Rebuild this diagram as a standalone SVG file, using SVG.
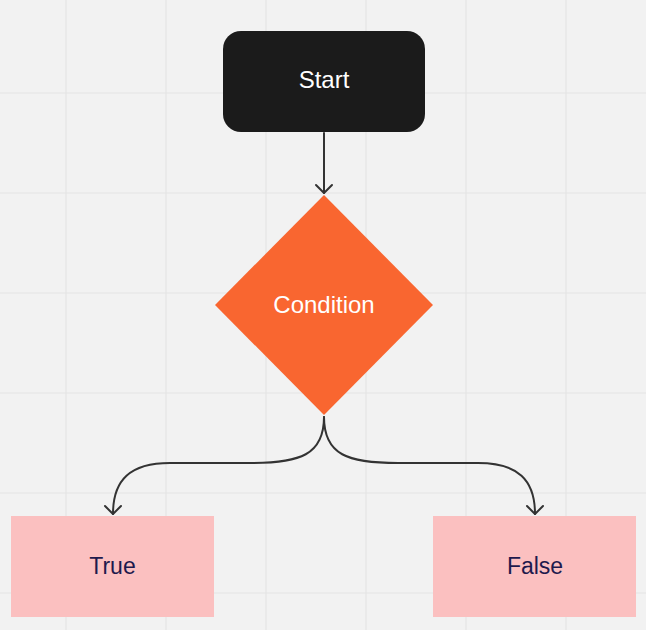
<svg xmlns="http://www.w3.org/2000/svg" width="646" height="630" viewBox="0 0 646 630">
  <defs>
    <style>
      .grid line { stroke: #e4e4e4; stroke-width: 1.2; }
      .edge { fill: none; stroke: #333333; stroke-width: 2; stroke-linecap: round; }
      .head { fill: none; stroke: #333333; stroke-width: 2; stroke-linecap: round; stroke-linejoin: round; }
      .lbl { font-family: "Liberation Sans", Arial, sans-serif; text-anchor: middle; }
      .light { fill: #ffffff; font-size: 24px; }
      .dark { fill: #1e1a4d; font-size: 23px; }
    </style>
  </defs>
  <rect x="0" y="0" width="646" height="630" fill="#f2f2f2"/>
  <g class="grid">
    <line x1="66" y1="0" x2="66" y2="630"/>
    <line x1="166" y1="0" x2="166" y2="630"/>
    <line x1="266" y1="0" x2="266" y2="630"/>
    <line x1="366" y1="0" x2="366" y2="630"/>
    <line x1="466" y1="0" x2="466" y2="630"/>
    <line x1="566" y1="0" x2="566" y2="630"/>
    <line x1="0" y1="93" x2="646" y2="93"/>
    <line x1="0" y1="193" x2="646" y2="193"/>
    <line x1="0" y1="293" x2="646" y2="293"/>
    <line x1="0" y1="393" x2="646" y2="393"/>
    <line x1="0" y1="493" x2="646" y2="493"/>
    <line x1="0" y1="593" x2="646" y2="593"/>
  </g>
  <g id="connectors">
    <path class="edge" d="M324 133 L324 193"/>
    <path class="head" d="M316 185 L324 193 L332 185"/>
    <path class="edge" d="M324 417 C324 455 300 463 250 463 L170 463 C130 463 113 480 113 514"/>
    <path class="head" d="M105 506 L113 514 L121 506"/>
    <path class="edge" d="M324 417 C324 455 348 463 398 463 L478 463 C518 463 535 480 535 514"/>
    <path class="head" d="M527 506 L535 514 L543 506"/>
  </g>
  <g id="start">
    <rect x="223" y="31" width="202" height="101" rx="18" fill="#1b1b1b"/>
    <text class="lbl light" x="324" y="88">Start</text>
  </g>
  <g id="condition">
    <polygon points="324,195 433,305 324,415 215,305" fill="#f96630"/>
    <text class="lbl light" x="324" y="313">Condition</text>
  </g>
  <g id="true">
    <rect x="11" y="516" width="203" height="101" fill="#fbc0c0"/>
    <text class="lbl dark" x="112.5" y="574">True</text>
  </g>
  <g id="false">
    <rect x="433" y="516" width="203" height="101" fill="#fbc0c0"/>
    <text class="lbl dark" x="535" y="574">False</text>
  </g>
</svg>
